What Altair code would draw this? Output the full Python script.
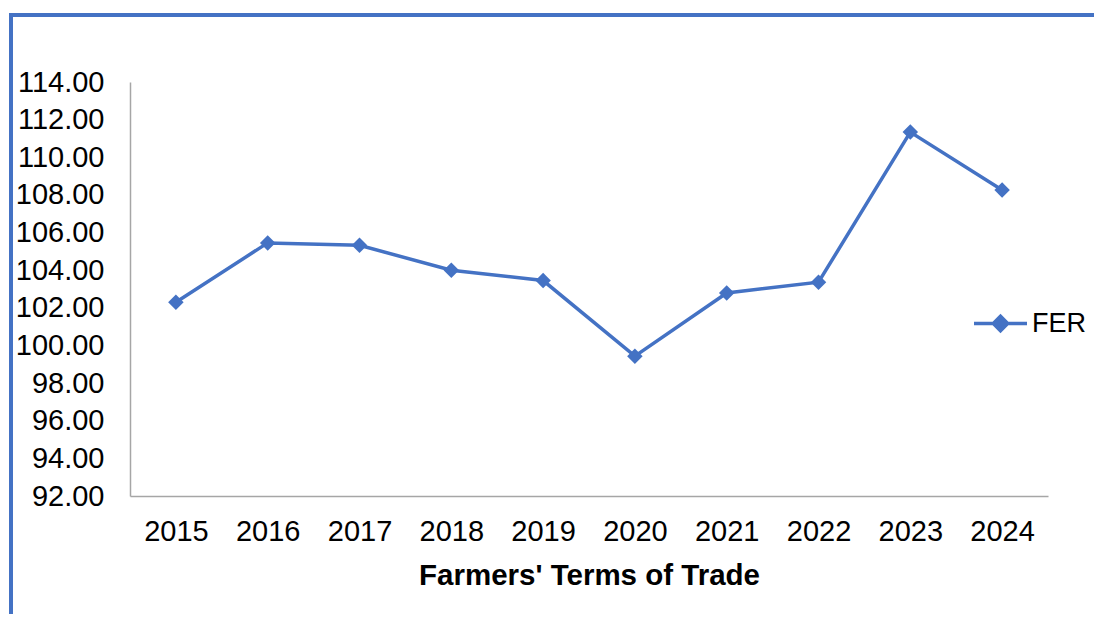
import altair as alt
import pandas as pd

years = ["2015", "2016", "2017", "2018", "2019", "2020", "2021", "2022", "2023", "2024"]
fer = [102.30, 105.45, 105.32, 104.00, 103.45, 99.43, 102.79, 103.36, 111.34, 108.26]
series = ["FER"] * len(years)
y_ticks = [92, 94, 96, 98, 100, 102, 104, 106, 108, 110, 112, 114]

BLUE = "#4472C4"
FONT = "Liberation Sans"

df = pd.DataFrame({"year": years, "value": fer, "series": series})
one = pd.DataFrame({"k": [0]})

x_enc = alt.X(
    "year:N",
    sort=years,
    scale=alt.Scale(type="point", padding=0.5),
    axis=alt.Axis(
        title="Farmers' Terms of Trade",
        labelAngle=0,
        labelFontSize=29,
        labelFont=FONT,
        labelColor="black",
        labelPadding=21,
        ticks=False,
        domainColor="#a6a6a6",
        domainWidth=1.5,
        titleFont=FONT,
        titleFontSize=29.5,
        titleFontWeight="bold",
        titleColor="black",
        titlePadding=15,
        grid=False,
    ),
)
y_enc = alt.Y(
    "value:Q",
    scale=alt.Scale(domain=[92, 114], nice=False, zero=False),
    axis=alt.Axis(
        title=None,
        values=y_ticks,
        format=".2f",
        labelFontSize=29,
        labelFont=FONT,
        labelColor="black",
        labelPadding=26,
        ticks=False,
        domainColor="#a6a6a6",
        domainWidth=1.5,
        grid=False,
    ),
)

line = alt.Chart(df).mark_line(color=BLUE, strokeWidth=3.5).encode(x=x_enc, y=y_enc)

points = alt.Chart(df).mark_point(filled=True, shape="diamond", size=240, opacity=1).encode(
    x=x_enc,
    y=y_enc,
    color=alt.Color(
        "series:N",
        scale=alt.Scale(domain=["FER"], range=[BLUE]),
        legend=alt.Legend(
            title=None,
            orient="none",
            legendX=842,
            legendY=213,
            padding=0,
            symbolType="M-1,0L1,0M0,-0.27L0.27,0L0,0.27L-0.27,0Z",
            symbolSize=2809,
            symbolStrokeColor=BLUE,
            symbolFillColor=BLUE,
            symbolStrokeWidth=3.5,
            symbolOpacity=1,
            labelFont=FONT,
            labelFontSize=27,
            labelColor="black",
            labelOffset=3,
        ),
    ),
)

frame_left = alt.Chart(one).mark_rule(color=BLUE, strokeWidth=4).encode(
    x=alt.value(-119), y=alt.value(-69), y2=alt.value(560)
)
frame_top = alt.Chart(one).mark_rule(color=BLUE, strokeWidth=4).encode(
    x=alt.value(-121), x2=alt.value(1000), y=alt.value(-67)
)

chart = (
    alt.layer(frame_left, frame_top, line, points)
    .properties(
        width=918,
        height=414,
        autosize=alt.AutoSizeParams(type="none"),
        padding={"left": 122, "top": 74, "right": 46, "bottom": 118},
    )
    .configure_view(stroke=None)
)

chart.save("out.html", embed_options={"renderer": "svg", "actions": False})
